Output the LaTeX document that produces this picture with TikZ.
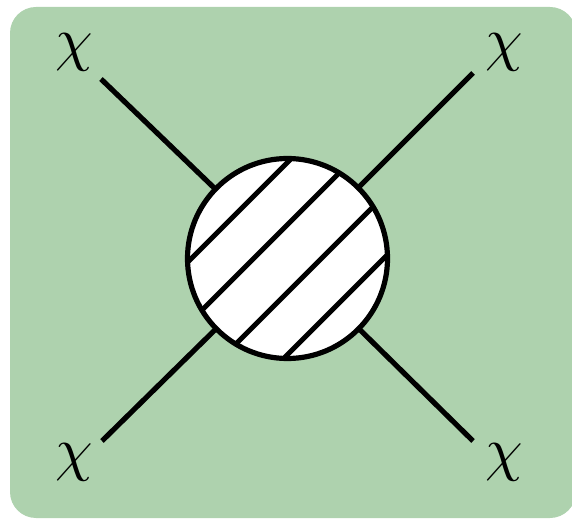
\documentclass[tikz,border=0pt]{standalone}
\usepackage{tikz}
\usetikzlibrary{positioning, calc}
\definecolor{panelgreen}{RGB}{174,210,174}

\begin{document}
\begin{tikzpicture}[
    x=1pt, y=1pt,
    leg/.style={line width=5.2pt},
    blob/.style={circle, draw, fill=white, line width=5.2pt, minimum size=200pt, inner sep=0pt},
    hatch/.style={line width=5pt},
    lbl/.style={scale=6, inner sep=0pt},
]
  \useasboundingbox (0,0) rectangle (572,519);
  % background panel
  \begin{scope}
    \clip (0,0) rectangle (572,519);
    \fill[panelgreen, rounded corners=26pt] (10,1) rectangle (576,512);
  \end{scope}

  % centre of the blob and outer ends of the legs
  \coordinate (ctr) at (287.5,260.5);
  \coordinate (tl) at (101,440);
  \coordinate (tr) at (473,446);
  \coordinate (bl) at (102,78);
  \coordinate (br) at (473,78);

  % legs
  \draw[leg] (tl) -- (ctr);
  \draw[leg] (tr) -- (ctr);
  \draw[leg] (bl) -- (ctr);
  \draw[leg] (br) -- (ctr);

  % blob with hatching
  \node[blob] (vtx) at (ctr) {};
  \begin{scope}
    \clip (vtx.center) circle (100pt);
    \foreach \off in {-68,-24,24,68}
      \draw[hatch] ($(vtx.center)+(\off*0.7071,-\off*0.7071)+(-150,-150)$) -- ++(300,300);
  \end{scope}

  % labels
  \node[lbl] (ltl) at (74,467) {$\chi$};
  \node[lbl] (ltr) at (504,467) {$\chi$};
  \node[lbl] (lbl) at (74,57) {$\chi$};
  \node[lbl] (lbr) at (504,57) {$\chi$};
\end{tikzpicture}
\end{document}
